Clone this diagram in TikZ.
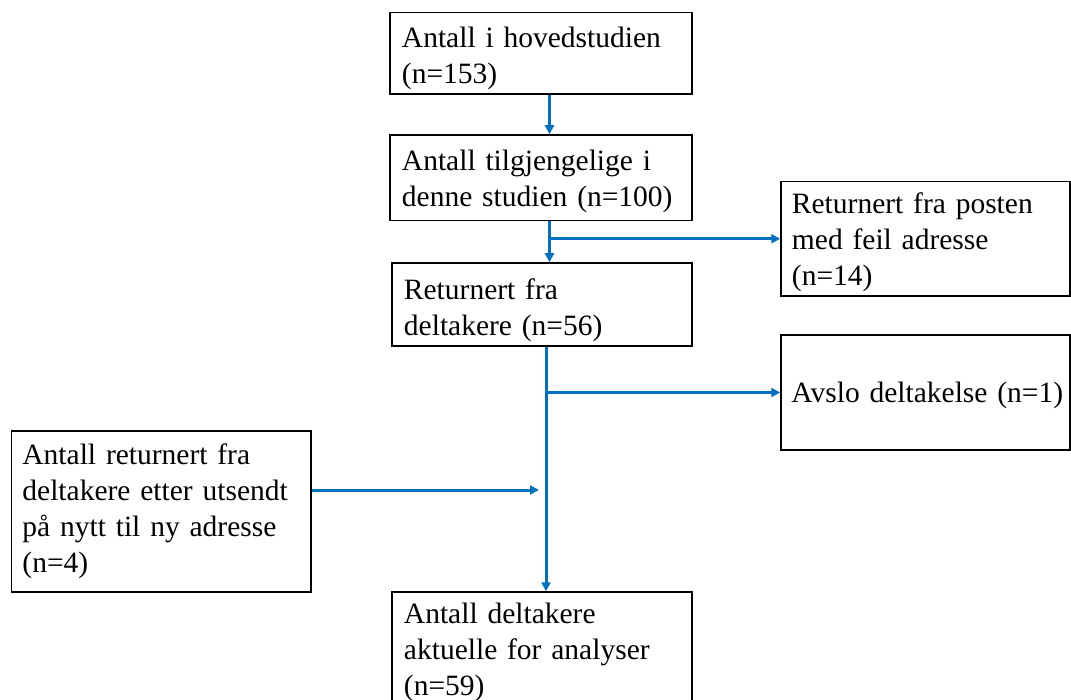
\documentclass[tikz,border=0pt]{standalone}
\usepackage{fontspec}
\setmainfont{Liberation Serif}
\usetikzlibrary{arrows.meta}
\definecolor{flowblue}{RGB}{0,112,192}
\begin{document}
\begin{tikzpicture}[x=1pt,y=-1pt,
  box/.style={draw=black, line width=1.5pt, inner sep=0pt},
  txt/.style={anchor=north west, inner sep=0pt, align=left, text width=300pt,
    font=\fontsize{29.5}{36}\selectfont},
  arr/.style={draw=flowblue, line width=3pt, -{Triangle[length=9pt,width=9pt]}}]
\useasboundingbox (0,0) rectangle (1071,700);
% boxes
\node[box, minimum width=302pt, minimum height=81.5pt] (b1) at (541,53.25) {};
\node[box, minimum width=302pt, minimum height=85.5pt] (b2) at (541,177.75) {};
\node[box, minimum width=300pt, minimum height=83pt] (b3) at (542,304.5) {};
\node[box, minimum width=289pt, minimum height=114.5pt] (b4) at (925.5,238.75) {};
\node[box, minimum width=289pt, minimum height=115pt] (b5) at (925.5,392.5) {};
\node[box, minimum width=299.5pt, minimum height=161pt] (b6) at (161.25,511.5) {};
\node[box, minimum width=300pt, minimum height=128pt] (b7) at (542,656) {};
% texts
\node[txt] (t1) at ([shift={(12.5pt,-10.5pt)}]b1.north west) {\strut Antall i hovedstudien\\(n=153)};
\node[txt] (t2) at ([shift={(12.5pt,-10.5pt)}]b2.north west) {\strut Antall tilgjengelige i\\denne studien (n=100)};
\node[txt] (t3) at ([shift={(12.5pt,-11.5pt)}]b3.north west) {\strut Returnert fra\\deltakere (n=56)};
\node[txt] (t4) at ([shift={(11.5pt,-7.5pt)}]b4.north west) {\strut Returnert fra posten\\med feil adresse\\(n=14)};
\node[txt] (t5) at ([shift={(11pt,-43.3pt)}]b5.north west) {\strut Avslo deltakelse (n=1)};
\node[txt] (t6) at ([shift={(11.5pt,-9pt)}]b6.north west) {\strut Antall returnert fra\\deltakere etter utsendt\\på nytt til ny adresse\\(n=4)};
\node[txt] (t7) at ([shift={(12.5pt,-7pt)}]b7.north west) {\strut Antall deltakere\\aktuelle for analyser\\(n=59)};
% connectors
\coordinate (s1) at (549.5,0);
\coordinate (s2) at (546,0);
\coordinate (j6) at ([yshift=21.5pt]b6.east);
\coordinate (e6) at ([xshift=-7pt]j6 -| s2);
\draw[arr] (b1.south -| s1) -- (b2.north -| s1);
\draw[arr] (b2.south -| s1) -- (b3.north -| s1);
\draw[arr] (b4.west -| s1) -- (b4.west);
\draw[arr] (b3.south -| s2) -- (b7.north -| s2);
\draw[arr] (b5.west -| s2) -- (b5.west);
\draw[arr] (j6) -- (e6);
\end{tikzpicture}
\end{document}
